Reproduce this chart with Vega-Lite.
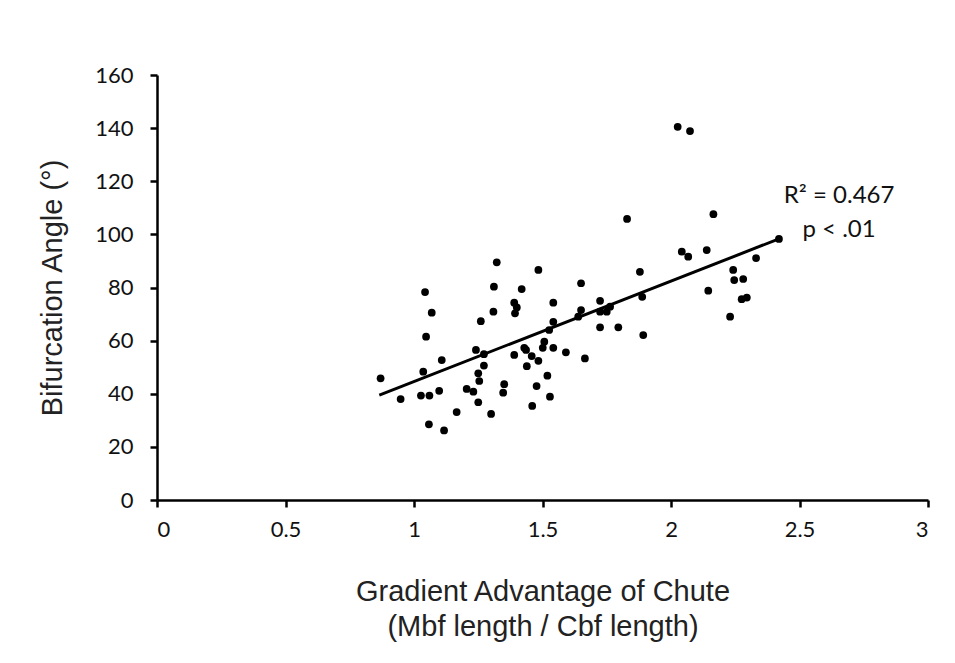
{
  "$schema": "https://vega.github.io/schema/vega-lite/v6.json",
  "width": 771,
  "height": 425,
  "autosize": "none",
  "padding": {"left": 157, "top": 75, "right": 27, "bottom": 163},
  "background": "white",
  "config": {
    "view": {"stroke": null},
    "axis": {
      "grid": false,
      "domainColor": "black",
      "domainWidth": 2.5,
      "tickColor": "black",
      "tickWidth": 2.5,
      "tickSize": 7,
      "labelFont": "Lato",
      "labelFontSize": 22,
      "labelColor": "#111",
      "titleFont": "Liberation Sans",
      "titleFontSize": 29,
      "titleFontWeight": "normal",
      "titleColor": "#222"
    }
  },
  "datasets": {
    "pts": [
      {"ratio": 1.322, "angle": 89.5}, {"ratio": 1.484, "angle": 86.6}, {"ratio": 1.043, "angle": 78.3},
      {"ratio": 1.311, "angle": 80.3}, {"ratio": 1.419, "angle": 79.4}, {"ratio": 1.542, "angle": 74.3},
      {"ratio": 1.069, "angle": 70.5}, {"ratio": 1.390, "angle": 74.3}, {"ratio": 1.400, "angle": 72.5},
      {"ratio": 1.393, "angle": 70.3}, {"ratio": 1.309, "angle": 70.9}, {"ratio": 1.260, "angle": 67.3},
      {"ratio": 1.542, "angle": 67.1}, {"ratio": 1.047, "angle": 61.5}, {"ratio": 1.526, "angle": 64.0},
      {"ratio": 1.507, "angle": 59.6}, {"ratio": 1.501, "angle": 57.3}, {"ratio": 1.542, "angle": 57.3},
      {"ratio": 1.241, "angle": 56.5}, {"ratio": 1.272, "angle": 54.9}, {"ratio": 1.429, "angle": 57.3},
      {"ratio": 1.436, "angle": 56.5}, {"ratio": 1.390, "angle": 54.6}, {"ratio": 1.458, "angle": 54.2},
      {"ratio": 1.484, "angle": 52.4}, {"ratio": 1.108, "angle": 52.7}, {"ratio": 1.439, "angle": 50.4},
      {"ratio": 1.272, "angle": 50.6}, {"ratio": 1.036, "angle": 48.3}, {"ratio": 1.250, "angle": 47.7},
      {"ratio": 0.870, "angle": 45.8}, {"ratio": 1.519, "angle": 46.8}, {"ratio": 1.254, "angle": 44.8},
      {"ratio": 1.351, "angle": 43.6}, {"ratio": 1.477, "angle": 42.9}, {"ratio": 1.205, "angle": 41.8},
      {"ratio": 1.231, "angle": 40.8}, {"ratio": 1.098, "angle": 41.1}, {"ratio": 1.027, "angle": 39.3},
      {"ratio": 1.060, "angle": 39.3}, {"ratio": 1.347, "angle": 40.4}, {"ratio": 1.529, "angle": 38.9},
      {"ratio": 0.948, "angle": 38.0}, {"ratio": 1.250, "angle": 36.8}, {"ratio": 1.460, "angle": 35.4},
      {"ratio": 1.166, "angle": 33.1}, {"ratio": 1.300, "angle": 32.4}, {"ratio": 1.058, "angle": 28.5},
      {"ratio": 1.117, "angle": 26.2},
      {"ratio": 2.042, "angle": 93.5}, {"ratio": 2.067, "angle": 91.6}, {"ratio": 1.879, "angle": 85.9},
      {"ratio": 1.650, "angle": 81.6}, {"ratio": 1.724, "angle": 75.0}, {"ratio": 1.888, "angle": 76.5},
      {"ratio": 1.650, "angle": 71.5}, {"ratio": 1.639, "angle": 69.0}, {"ratio": 1.724, "angle": 70.9},
      {"ratio": 1.750, "angle": 70.9}, {"ratio": 1.763, "angle": 72.8}, {"ratio": 1.724, "angle": 65.0},
      {"ratio": 1.795, "angle": 65.0}, {"ratio": 1.892, "angle": 62.1}, {"ratio": 1.591, "angle": 55.6},
      {"ratio": 1.665, "angle": 53.3},
      {"ratio": 2.026, "angle": 140.5}, {"ratio": 2.074, "angle": 138.9},
      {"ratio": 2.165, "angle": 107.6}, {"ratio": 2.139, "angle": 94.1}, {"ratio": 2.420, "angle": 98.3},
      {"ratio": 2.331, "angle": 91.1}, {"ratio": 2.242, "angle": 86.6}, {"ratio": 2.246, "angle": 82.8},
      {"ratio": 2.281, "angle": 83.2}, {"ratio": 2.145, "angle": 78.8}, {"ratio": 2.275, "angle": 75.6},
      {"ratio": 2.295, "angle": 76.2}, {"ratio": 2.230, "angle": 69.0},
      {"ratio": 1.829, "angle": 105.8}
    ],
    "fit": [
      {"ratio": 0.865, "angle": 39.5},
      {"ratio": 2.42, "angle": 98.3}
    ]
  },
  "layer": [
    {
      "data": {"name": "fit"},
      "mark": {"type": "line", "color": "black", "strokeWidth": 3},
      "encoding": {
        "x": {"field": "ratio", "type": "quantitative", "scale": {"domain": [0, 3], "nice": false, "zero": false}},
        "y": {"field": "angle", "type": "quantitative", "scale": {"domain": [0, 160], "nice": false}}
      }
    },
    {
      "data": {"name": "pts"},
      "mark": {"type": "circle", "size": 60, "color": "black", "opacity": 1},
      "encoding": {
        "x": {
          "field": "ratio",
          "type": "quantitative",
          "scale": {"domain": [0, 3], "nice": false, "zero": false},
          "axis": {
            "values": [0, 0.5, 1, 1.5, 2, 2.5, 3],
            "format": "~g",
            "labelPadding": 12,
            "title": ["Gradient Advantage of Chute", "(Mbf length / Cbf length)"],
            "titleLineHeight": 35,
            "titlePadding": 37
          }
        },
        "y": {
          "field": "angle",
          "type": "quantitative",
          "scale": {"domain": [0, 160], "nice": false},
          "axis": {
            "values": [0, 20, 40, 60, 80, 100, 120, 140, 160],
            "labelPadding": 17,
            "title": "Bifurcation Angle (°)",
            "titlePadding": 27
          }
        }
      }
    },
    {
      "data": {"values": [{}]},
      "mark": {
        "type": "text",
        "text": ["R² = 0.467", "p < .01"],
        "font": "Lato",
        "fontSize": 24,
        "lineHeight": 34,
        "align": "center",
        "baseline": "middle",
        "color": "#111"
      },
      "encoding": {
        "x": {"datum": 2.654, "type": "quantitative"},
        "y": {"datum": 114.5, "type": "quantitative"}
      }
    }
  ]
}
